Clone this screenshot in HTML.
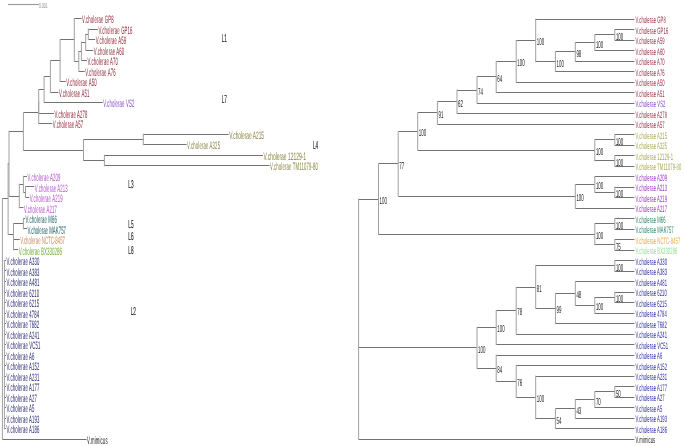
<!DOCTYPE html><html><head><meta charset="utf-8"><style>html,body{margin:0;padding:0;background:#fff;}svg{display:block;will-change:transform;}text{font-family:"Liberation Sans",sans-serif;text-rendering:geometricPrecision;}</style></head><body>
<svg width="685" height="446" viewBox="0 0 685 446">
<rect width="685" height="446" fill="#fff"/>
<path d="M88.30 29.50H97.90M88.30 39.50H95.20M85.70 34.50H88.30M85.70 50.50H93.30M81.40 42.50H85.70M81.40 60.50H87.00M78.80 51.50H81.40M78.80 71.50H84.70M74.30 18.50H81.60M74.30 61.50H78.80M60.10 39.50H74.30M60.10 81.50H65.70M50.40 60.50H60.10M50.40 92.50H58.40M44.10 76.50H50.40M44.10 102.50H102.70M38.70 89.50H44.10M38.70 113.50H54.00M38.70 123.50H52.30M143.30 134.50H228.70M143.30 144.50H186.60M104.40 155.50H263.00M104.40 165.50H269.60M83.50 139.50H143.30M83.50 160.50H104.40M23.40 112.50H38.70M23.40 150.50H83.50M25.50 186.50H34.30M25.50 197.50H29.20M23.40 176.50H27.00M23.40 192.50H25.50M19.30 184.50H23.40M19.30 207.50H23.40M23.40 218.50H25.10M23.40 228.50H27.00M13.50 239.50H19.70M13.50 249.50H18.20M13.50 223.50H23.40M9.00 131.50H23.40M9.00 196.50H19.30M8.10 163.50H9.00M8.10 234.50H13.50M2.40 198.50H8.10M2.40 439.50H86.60M4.40 260.50H6.00M4.40 270.50H6.00M4.40 281.50H6.00M4.40 292.50H6.00M4.40 302.50H6.00M4.40 313.50H6.00M4.40 323.50H6.00M4.40 334.50H6.00M4.40 344.50H6.00M4.40 355.50H6.00M4.40 365.50H6.00M4.40 376.50H6.00M4.40 386.50H6.00M4.40 397.50H6.00M4.40 407.50H6.00M4.40 418.50H6.00M4.40 428.50H6.00M614.80 29.50H634.40M614.80 40.50H634.40M594.80 34.50H614.80M594.80 50.50H634.40M575.30 42.50H594.80M575.30 61.50H634.40M555.40 51.50H575.30M555.40 71.50H634.40M535.70 19.50H634.40M535.70 61.50H555.40M516.20 40.50H535.70M516.20 82.50H634.40M496.20 61.50H516.20M496.20 92.50H634.40M477.00 76.50H496.20M477.00 103.50H634.40M457.00 90.50H477.00M457.00 113.50H634.40M437.40 101.50H457.00M437.40 124.50H634.40M614.80 134.50H634.40M614.80 145.50H634.40M614.80 155.50H634.40M614.80 166.50H634.40M594.80 139.50H614.80M594.80 160.50H614.80M417.70 112.50H437.40M417.70 150.50H594.80M614.80 187.50H634.40M614.80 197.50H634.40M594.80 176.50H634.40M594.80 192.50H614.80M575.30 184.50H594.80M575.30 208.50H634.40M398.20 131.50H417.70M398.20 196.50H575.30M614.80 218.50H634.40M614.80 229.50H634.40M614.80 239.50H634.40M614.80 250.50H634.40M594.80 223.50H614.80M594.80 244.50H614.80M378.50 163.50H398.20M378.50 234.50H594.80M614.80 260.50H634.40M614.80 271.50H634.40M614.80 292.50H634.40M614.80 302.50H634.40M594.80 297.50H614.80M594.80 313.50H634.40M575.30 281.50H634.40M575.30 305.50H594.80M555.40 293.50H575.30M555.40 323.50H634.40M535.70 265.50H614.80M535.70 308.50H555.40M516.20 287.50H535.70M516.20 334.50H634.40M496.20 310.50H516.20M496.20 344.50H634.40M614.80 386.50H634.40M614.80 397.50H634.40M594.80 391.50H614.80M594.80 407.50H634.40M575.30 399.50H594.80M575.30 418.50H634.40M555.40 408.50H575.30M555.40 428.50H634.40M535.70 376.50H634.40M535.70 418.50H555.40M516.20 365.50H634.40M516.20 397.50H535.70M496.20 355.50H634.40M496.20 381.50H516.20M477.00 327.50H496.20M477.00 368.50H496.20M358.60 199.50H378.50M358.60 347.50H477.00M358.60 439.50H634.40" stroke="#727272" stroke-width="1.20" fill="none"/>
<path d="M88.30 28.52V40.04M85.70 33.78V50.56M81.40 41.67V61.08M78.80 50.88V71.60M74.30 18.00V61.74M60.10 39.37V82.12M50.40 60.24V92.64M44.10 75.94V103.16M38.70 89.05V113.68M38.70 100.87V124.20M143.30 133.72V145.24M104.40 154.76V166.28M83.50 138.98V161.02M23.40 112.03V150.50M25.50 186.32V197.84M23.40 175.80V192.58M19.30 183.69V208.36M23.40 217.88V229.40M13.50 238.92V250.44M13.50 223.14V245.18M9.00 130.77V196.52M8.10 163.15V234.66M2.40 198.40V439.80M4.40 259.96V429.28M614.80 29.10V40.60M594.80 34.35V51.10M575.30 42.23V61.60M555.40 51.41V72.10M535.70 18.60V62.26M516.20 39.93V82.60M496.20 60.76V93.10M477.00 76.43V103.60M457.00 89.52V114.10M437.40 101.31V124.60M614.80 134.10V145.60M614.80 155.10V166.60M594.80 139.35V161.35M417.70 112.45V150.85M614.80 186.60V198.10M594.80 176.10V192.85M575.30 183.97V208.60M398.20 131.15V196.79M614.80 218.10V229.60M614.80 239.10V250.60M594.80 223.35V245.35M378.50 163.47V234.85M614.80 260.10V271.60M614.80 291.60V303.10M594.80 296.85V313.60M575.30 281.10V305.73M555.40 292.91V324.10M535.70 265.35V309.01M516.20 286.68V334.60M496.20 310.14V345.10M614.80 386.10V397.60M594.80 391.35V408.10M575.30 399.23V418.60M555.40 408.41V429.10M535.70 375.60V419.26M516.20 365.10V397.93M496.20 354.60V382.01M477.00 327.12V368.81M358.60 198.66V439.60" stroke="#a0a0a0" stroke-width="1" fill="none"/>
<path d="M8 4.5H39" stroke="#9a9a9a" stroke-width="1.1"/>
<g transform="translate(39.0,7.7) scale(0.50,1)"><text font-size="7" fill="#909090">0.001</text></g>
<g transform="translate(82.10,23.20) scale(0.395,1)"><text font-size="10.80" fill="#8e2636" fill-opacity="1.00" letter-spacing="0.36">V.cholerae GP8</text></g>
<g transform="translate(98.40,33.72) scale(0.395,1)"><text font-size="10.80" fill="#8e2636" fill-opacity="1.00" letter-spacing="0.36">V.cholerae GP16</text></g>
<g transform="translate(95.70,44.24) scale(0.395,1)"><text font-size="10.80" fill="#8e2636" fill-opacity="1.00" letter-spacing="0.36">V.cholerae A59</text></g>
<g transform="translate(93.80,54.76) scale(0.395,1)"><text font-size="10.80" fill="#8e2636" fill-opacity="1.00" letter-spacing="0.36">V.cholerae A60</text></g>
<g transform="translate(87.50,65.28) scale(0.395,1)"><text font-size="10.80" fill="#8e2636" fill-opacity="1.00" letter-spacing="0.36">V.cholerae A70</text></g>
<g transform="translate(85.20,75.80) scale(0.395,1)"><text font-size="10.80" fill="#8e2636" fill-opacity="1.00" letter-spacing="0.36">V.cholerae A76</text></g>
<g transform="translate(66.20,86.32) scale(0.395,1)"><text font-size="10.80" fill="#8e2636" fill-opacity="1.00" letter-spacing="0.36">V.cholerae A50</text></g>
<g transform="translate(58.90,96.84) scale(0.395,1)"><text font-size="10.80" fill="#8e2636" fill-opacity="1.00" letter-spacing="0.36">V.cholerae A51</text></g>
<g transform="translate(103.20,107.36) scale(0.395,1)"><text font-size="10.80" fill="#8848c8" fill-opacity="1.00" letter-spacing="0.36">V.cholerae VS2</text></g>
<g transform="translate(54.50,117.88) scale(0.395,1)"><text font-size="10.80" fill="#8e2636" fill-opacity="1.00" letter-spacing="0.36">V.cholerae A278</text></g>
<g transform="translate(52.80,128.40) scale(0.395,1)"><text font-size="10.80" fill="#8e2636" fill-opacity="1.00" letter-spacing="0.36">V.cholerae A57</text></g>
<g transform="translate(229.20,138.92) scale(0.395,1)"><text font-size="10.80" fill="#858540" fill-opacity="1.00" textLength="88.1" lengthAdjust="spacingAndGlyphs">V.cholerae A215</text></g>
<g transform="translate(187.10,149.44) scale(0.395,1)"><text font-size="10.80" fill="#858540" fill-opacity="1.00" letter-spacing="0.36">V.cholerae A325</text></g>
<g transform="translate(263.50,159.96) scale(0.395,1)"><text font-size="10.80" fill="#858540" fill-opacity="1.00" textLength="107.6" lengthAdjust="spacingAndGlyphs">V.cholerae 12129-1</text></g>
<g transform="translate(270.10,170.48) scale(0.395,1)"><text font-size="10.80" fill="#858540" fill-opacity="1.00" letter-spacing="0.36">V.cholerae TM11079-80</text></g>
<g transform="translate(27.50,181.00) scale(0.395,1)"><text font-size="10.80" fill="#b450c8" fill-opacity="1.00" letter-spacing="0.36">V.cholerae A209</text></g>
<g transform="translate(34.80,191.52) scale(0.395,1)"><text font-size="10.80" fill="#b450c8" fill-opacity="1.00" letter-spacing="0.36">V.cholerae A213</text></g>
<g transform="translate(29.70,202.04) scale(0.395,1)"><text font-size="10.80" fill="#b450c8" fill-opacity="1.00" letter-spacing="0.36">V.cholerae A219</text></g>
<g transform="translate(23.90,212.56) scale(0.395,1)"><text font-size="10.80" fill="#b450c8" fill-opacity="1.00" letter-spacing="0.36">V.cholerae A217</text></g>
<g transform="translate(25.60,223.08) scale(0.395,1)"><text font-size="10.80" fill="#1e6064" fill-opacity="1.00" letter-spacing="0.36">V.cholerae M66</text></g>
<g transform="translate(27.50,233.60) scale(0.395,1)"><text font-size="10.80" fill="#1e6064" fill-opacity="1.00" textLength="97.5" lengthAdjust="spacingAndGlyphs">V.cholerae MAK757</text></g>
<g transform="translate(20.20,244.12) scale(0.395,1)"><text font-size="10.80" fill="#c89060" fill-opacity="1.00" textLength="113.4" lengthAdjust="spacingAndGlyphs">V.cholerae NCTC-8457</text></g>
<g transform="translate(18.70,254.64) scale(0.395,1)"><text font-size="10.80" fill="#70b030" fill-opacity="1.00" textLength="109.6" lengthAdjust="spacingAndGlyphs">V.cholerae BX330286</text></g>
<g transform="translate(6.50,265.16) scale(0.395,1)"><text font-size="10.80" fill="#262670" fill-opacity="1.00" letter-spacing="0.36">V.cholerae A330</text></g>
<g transform="translate(6.50,275.68) scale(0.395,1)"><text font-size="10.80" fill="#262670" fill-opacity="1.00" letter-spacing="0.36">V.cholerae A383</text></g>
<g transform="translate(6.50,286.20) scale(0.395,1)"><text font-size="10.80" fill="#262670" fill-opacity="1.00" letter-spacing="0.36">V.cholerae A481</text></g>
<g transform="translate(6.50,296.72) scale(0.395,1)"><text font-size="10.80" fill="#262670" fill-opacity="1.00" letter-spacing="0.36">V.cholerae 6210</text></g>
<g transform="translate(6.50,307.24) scale(0.395,1)"><text font-size="10.80" fill="#262670" fill-opacity="1.00" letter-spacing="0.36">V.cholerae 6215</text></g>
<g transform="translate(6.50,317.76) scale(0.395,1)"><text font-size="10.80" fill="#262670" fill-opacity="1.00" letter-spacing="0.36">V.cholerae 4784</text></g>
<g transform="translate(6.50,328.28) scale(0.395,1)"><text font-size="10.80" fill="#262670" fill-opacity="1.00" letter-spacing="0.36">V.cholerae 7682</text></g>
<g transform="translate(6.50,338.80) scale(0.395,1)"><text font-size="10.80" fill="#262670" fill-opacity="1.00" letter-spacing="0.36">V.cholerae A241</text></g>
<g transform="translate(6.50,349.32) scale(0.395,1)"><text font-size="10.80" fill="#262670" fill-opacity="1.00" letter-spacing="0.36">V.cholerae VC51</text></g>
<g transform="translate(6.50,359.84) scale(0.395,1)"><text font-size="10.80" fill="#262670" fill-opacity="1.00" letter-spacing="0.36">V.cholerae A6</text></g>
<g transform="translate(6.50,370.36) scale(0.395,1)"><text font-size="10.80" fill="#262670" fill-opacity="1.00" letter-spacing="0.36">V.cholerae A152</text></g>
<g transform="translate(6.50,380.88) scale(0.395,1)"><text font-size="10.80" fill="#262670" fill-opacity="1.00" letter-spacing="0.36">V.cholerae A231</text></g>
<g transform="translate(6.50,391.40) scale(0.395,1)"><text font-size="10.80" fill="#262670" fill-opacity="1.00" letter-spacing="0.36">V.cholerae A177</text></g>
<g transform="translate(6.50,401.92) scale(0.395,1)"><text font-size="10.80" fill="#262670" fill-opacity="1.00" letter-spacing="0.36">V.cholerae A27</text></g>
<g transform="translate(6.50,412.44) scale(0.395,1)"><text font-size="10.80" fill="#262670" fill-opacity="1.00" letter-spacing="0.36">V.cholerae A5</text></g>
<g transform="translate(6.50,422.96) scale(0.395,1)"><text font-size="10.80" fill="#262670" fill-opacity="1.00" letter-spacing="0.36">V.cholerae A193</text></g>
<g transform="translate(6.50,433.48) scale(0.395,1)"><text font-size="10.80" fill="#262670" fill-opacity="1.00" letter-spacing="0.36">V.cholerae A186</text></g>
<g transform="translate(87.10,444.00) scale(0.395,1)"><text font-size="10.80" fill="#222222" fill-opacity="1.00" letter-spacing="0.36">V.mimicus</text></g>
<g transform="translate(635.60,23.30) scale(0.440,1)"><text font-size="9.40" fill="#962a40" fill-opacity="1.00" letter-spacing="0.25">V.cholerae GP8</text></g>
<g transform="translate(635.60,33.80) scale(0.440,1)"><text font-size="9.40" fill="#962a40" fill-opacity="1.00" letter-spacing="0.25">V.cholerae GP16</text></g>
<g transform="translate(635.60,44.30) scale(0.440,1)"><text font-size="9.40" fill="#962a40" fill-opacity="1.00" letter-spacing="0.25">V.cholerae A59</text></g>
<g transform="translate(635.60,54.80) scale(0.440,1)"><text font-size="9.40" fill="#962a40" fill-opacity="1.00" letter-spacing="0.25">V.cholerae A60</text></g>
<g transform="translate(635.60,65.30) scale(0.440,1)"><text font-size="9.40" fill="#962a40" fill-opacity="1.00" letter-spacing="0.25">V.cholerae A70</text></g>
<g transform="translate(635.60,75.80) scale(0.440,1)"><text font-size="9.40" fill="#962a40" fill-opacity="1.00" letter-spacing="0.25">V.cholerae A76</text></g>
<g transform="translate(635.60,86.30) scale(0.440,1)"><text font-size="9.40" fill="#962a40" fill-opacity="1.00" letter-spacing="0.25">V.cholerae A50</text></g>
<g transform="translate(635.60,96.80) scale(0.440,1)"><text font-size="9.40" fill="#962a40" fill-opacity="1.00" letter-spacing="0.25">V.cholerae A51</text></g>
<g transform="translate(635.60,107.30) scale(0.440,1)"><text font-size="9.40" fill="#8040d8" fill-opacity="1.00" letter-spacing="0.25">V.cholerae VS2</text></g>
<g transform="translate(635.60,117.80) scale(0.440,1)"><text font-size="9.40" fill="#962a40" fill-opacity="1.00" letter-spacing="0.25">V.cholerae A278</text></g>
<g transform="translate(635.60,128.30) scale(0.440,1)"><text font-size="9.40" fill="#962a40" fill-opacity="1.00" letter-spacing="0.25">V.cholerae A57</text></g>
<g transform="translate(635.60,138.80) scale(0.440,1)"><text font-size="9.40" fill="#a8a850" fill-opacity="1.00" letter-spacing="0.25">V.cholerae A215</text></g>
<g transform="translate(635.60,149.30) scale(0.440,1)"><text font-size="9.40" fill="#a8a850" fill-opacity="1.00" letter-spacing="0.25">V.cholerae A325</text></g>
<g transform="translate(635.60,159.80) scale(0.440,1)"><text font-size="9.40" fill="#a8a850" fill-opacity="1.00" letter-spacing="0.25">V.cholerae 12129-1</text></g>
<g transform="translate(635.60,170.30) scale(0.440,1)"><text font-size="9.40" fill="#a8a850" fill-opacity="1.00" letter-spacing="0.25">V.cholerae TM11079-80</text></g>
<g transform="translate(635.60,180.80) scale(0.440,1)"><text font-size="9.40" fill="#9a30c0" fill-opacity="1.00" letter-spacing="0.25">V.cholerae A209</text></g>
<g transform="translate(635.60,191.30) scale(0.440,1)"><text font-size="9.40" fill="#9a30c0" fill-opacity="1.00" letter-spacing="0.25">V.cholerae A213</text></g>
<g transform="translate(635.60,201.80) scale(0.440,1)"><text font-size="9.40" fill="#9a30c0" fill-opacity="1.00" letter-spacing="0.25">V.cholerae A219</text></g>
<g transform="translate(635.60,212.30) scale(0.440,1)"><text font-size="9.40" fill="#9a30c0" fill-opacity="1.00" letter-spacing="0.25">V.cholerae A217</text></g>
<g transform="translate(635.60,222.80) scale(0.440,1)"><text font-size="9.40" fill="#2a8060" fill-opacity="1.00" letter-spacing="0.25">V.cholerae M66</text></g>
<g transform="translate(635.60,233.30) scale(0.440,1)"><text font-size="9.40" fill="#2a8060" fill-opacity="1.00" letter-spacing="0.25">V.cholerae MAK757</text></g>
<g transform="translate(635.60,243.80) scale(0.440,1)"><text font-size="9.40" fill="#f0a830" fill-opacity="1.00" letter-spacing="0.25">V.cholerae NCTC-8457</text></g>
<g transform="translate(635.60,254.30) scale(0.440,1)"><text font-size="9.40" fill="#90e090" fill-opacity="1.00" letter-spacing="0.25">V.cholerae BX330286</text></g>
<g transform="translate(635.60,264.80) scale(0.440,1)"><text font-size="9.40" fill="#2828a0" fill-opacity="1.00" letter-spacing="0.25">V.cholerae A330</text></g>
<g transform="translate(635.60,275.30) scale(0.440,1)"><text font-size="9.40" fill="#2828a0" fill-opacity="1.00" letter-spacing="0.25">V.cholerae A383</text></g>
<g transform="translate(635.60,285.80) scale(0.440,1)"><text font-size="9.40" fill="#2828a0" fill-opacity="1.00" letter-spacing="0.25">V.cholerae A481</text></g>
<g transform="translate(635.60,296.30) scale(0.440,1)"><text font-size="9.40" fill="#2828a0" fill-opacity="1.00" letter-spacing="0.25">V.cholerae 6210</text></g>
<g transform="translate(635.60,306.80) scale(0.440,1)"><text font-size="9.40" fill="#2828a0" fill-opacity="1.00" letter-spacing="0.25">V.cholerae 6215</text></g>
<g transform="translate(635.60,317.30) scale(0.440,1)"><text font-size="9.40" fill="#2828a0" fill-opacity="1.00" letter-spacing="0.25">V.cholerae 4784</text></g>
<g transform="translate(635.60,327.80) scale(0.440,1)"><text font-size="9.40" fill="#2828a0" fill-opacity="1.00" letter-spacing="0.25">V.cholerae 7682</text></g>
<g transform="translate(635.60,338.30) scale(0.440,1)"><text font-size="9.40" fill="#2828a0" fill-opacity="1.00" letter-spacing="0.25">V.cholerae A241</text></g>
<g transform="translate(635.60,348.80) scale(0.440,1)"><text font-size="9.40" fill="#2828a0" fill-opacity="1.00" letter-spacing="0.25">V.cholerae VC51</text></g>
<g transform="translate(635.60,359.30) scale(0.440,1)"><text font-size="9.40" fill="#2828a0" fill-opacity="1.00" letter-spacing="0.25">V.cholerae A6</text></g>
<g transform="translate(635.60,369.80) scale(0.440,1)"><text font-size="9.40" fill="#2828a0" fill-opacity="1.00" letter-spacing="0.25">V.cholerae A152</text></g>
<g transform="translate(635.60,380.30) scale(0.440,1)"><text font-size="9.40" fill="#2828a0" fill-opacity="1.00" letter-spacing="0.25">V.cholerae A231</text></g>
<g transform="translate(635.60,390.80) scale(0.440,1)"><text font-size="9.40" fill="#2828a0" fill-opacity="1.00" letter-spacing="0.25">V.cholerae A177</text></g>
<g transform="translate(635.60,401.30) scale(0.440,1)"><text font-size="9.40" fill="#2828a0" fill-opacity="1.00" letter-spacing="0.25">V.cholerae A27</text></g>
<g transform="translate(635.60,411.80) scale(0.440,1)"><text font-size="9.40" fill="#2828a0" fill-opacity="1.00" letter-spacing="0.25">V.cholerae A5</text></g>
<g transform="translate(635.60,422.30) scale(0.440,1)"><text font-size="9.40" fill="#2828a0" fill-opacity="1.00" letter-spacing="0.25">V.cholerae A193</text></g>
<g transform="translate(635.60,432.80) scale(0.440,1)"><text font-size="9.40" fill="#2828a0" fill-opacity="1.00" letter-spacing="0.25">V.cholerae A186</text></g>
<g transform="translate(635.60,443.30) scale(0.440,1)"><text font-size="9.40" fill="#222222" fill-opacity="1.00" letter-spacing="0.25">V.mimicus</text></g>
<g transform="translate(615.90,39.65) scale(0.445,1)"><text font-size="9.90" fill="#1a1a1a" font-family="Liberation Serif">100</text></g>
<g transform="translate(595.90,47.52) scale(0.445,1)"><text font-size="9.90" fill="#1a1a1a" font-family="Liberation Serif">100</text></g>
<g transform="translate(576.40,56.71) scale(0.445,1)"><text font-size="9.90" fill="#1a1a1a" font-family="Liberation Serif">98</text></g>
<g transform="translate(556.50,66.56) scale(0.445,1)"><text font-size="9.90" fill="#1a1a1a" font-family="Liberation Serif">100</text></g>
<g transform="translate(536.80,45.23) scale(0.445,1)"><text font-size="9.90" fill="#1a1a1a" font-family="Liberation Serif">100</text></g>
<g transform="translate(517.30,66.06) scale(0.445,1)"><text font-size="9.90" fill="#1a1a1a" font-family="Liberation Serif">100</text></g>
<g transform="translate(497.30,81.73) scale(0.445,1)"><text font-size="9.90" fill="#1a1a1a" font-family="Liberation Serif">64</text></g>
<g transform="translate(478.10,94.82) scale(0.445,1)"><text font-size="9.90" fill="#1a1a1a" font-family="Liberation Serif">74</text></g>
<g transform="translate(458.10,106.61) scale(0.445,1)"><text font-size="9.90" fill="#1a1a1a" font-family="Liberation Serif">62</text></g>
<g transform="translate(438.50,117.75) scale(0.445,1)"><text font-size="9.90" fill="#1a1a1a" font-family="Liberation Serif">91</text></g>
<g transform="translate(615.90,144.65) scale(0.445,1)"><text font-size="9.90" fill="#1a1a1a" font-family="Liberation Serif">100</text></g>
<g transform="translate(615.90,165.65) scale(0.445,1)"><text font-size="9.90" fill="#1a1a1a" font-family="Liberation Serif">100</text></g>
<g transform="translate(595.90,155.15) scale(0.445,1)"><text font-size="9.90" fill="#1a1a1a" font-family="Liberation Serif">100</text></g>
<g transform="translate(418.80,136.45) scale(0.445,1)"><text font-size="9.90" fill="#1a1a1a" font-family="Liberation Serif">100</text></g>
<g transform="translate(615.90,197.15) scale(0.445,1)"><text font-size="9.90" fill="#1a1a1a" font-family="Liberation Serif">100</text></g>
<g transform="translate(595.90,189.28) scale(0.445,1)"><text font-size="9.90" fill="#1a1a1a" font-family="Liberation Serif">100</text></g>
<g transform="translate(576.40,201.09) scale(0.445,1)"><text font-size="9.90" fill="#1a1a1a" font-family="Liberation Serif">100</text></g>
<g transform="translate(399.30,168.77) scale(0.445,1)"><text font-size="9.90" fill="#1a1a1a" font-family="Liberation Serif">77</text></g>
<g transform="translate(615.90,228.65) scale(0.445,1)"><text font-size="9.90" fill="#1a1a1a" font-family="Liberation Serif">100</text></g>
<g transform="translate(615.90,249.65) scale(0.445,1)"><text font-size="9.90" fill="#1a1a1a" font-family="Liberation Serif">75</text></g>
<g transform="translate(595.90,239.15) scale(0.445,1)"><text font-size="9.90" fill="#1a1a1a" font-family="Liberation Serif">100</text></g>
<g transform="translate(379.60,203.96) scale(0.445,1)"><text font-size="9.90" fill="#1a1a1a" font-family="Liberation Serif">100</text></g>
<g transform="translate(615.90,270.65) scale(0.445,1)"><text font-size="9.90" fill="#1a1a1a" font-family="Liberation Serif">100</text></g>
<g transform="translate(615.90,302.15) scale(0.445,1)"><text font-size="9.90" fill="#1a1a1a" font-family="Liberation Serif">100</text></g>
<g transform="translate(595.90,310.03) scale(0.445,1)"><text font-size="9.90" fill="#1a1a1a" font-family="Liberation Serif">100</text></g>
<g transform="translate(576.40,298.21) scale(0.445,1)"><text font-size="9.90" fill="#1a1a1a" font-family="Liberation Serif">48</text></g>
<g transform="translate(556.50,313.31) scale(0.445,1)"><text font-size="9.90" fill="#1a1a1a" font-family="Liberation Serif">99</text></g>
<g transform="translate(536.80,291.98) scale(0.445,1)"><text font-size="9.90" fill="#1a1a1a" font-family="Liberation Serif">81</text></g>
<g transform="translate(517.30,315.44) scale(0.445,1)"><text font-size="9.90" fill="#1a1a1a" font-family="Liberation Serif">78</text></g>
<g transform="translate(497.30,332.42) scale(0.445,1)"><text font-size="9.90" fill="#1a1a1a" font-family="Liberation Serif">100</text></g>
<g transform="translate(615.90,396.65) scale(0.445,1)"><text font-size="9.90" fill="#1a1a1a" font-family="Liberation Serif">50</text></g>
<g transform="translate(595.90,404.53) scale(0.445,1)"><text font-size="9.90" fill="#1a1a1a" font-family="Liberation Serif">70</text></g>
<g transform="translate(576.40,413.71) scale(0.445,1)"><text font-size="9.90" fill="#1a1a1a" font-family="Liberation Serif">43</text></g>
<g transform="translate(556.50,423.56) scale(0.445,1)"><text font-size="9.90" fill="#1a1a1a" font-family="Liberation Serif">54</text></g>
<g transform="translate(536.80,402.23) scale(0.445,1)"><text font-size="9.90" fill="#1a1a1a" font-family="Liberation Serif">100</text></g>
<g transform="translate(517.30,386.31) scale(0.445,1)"><text font-size="9.90" fill="#1a1a1a" font-family="Liberation Serif">76</text></g>
<g transform="translate(497.30,373.11) scale(0.445,1)"><text font-size="9.90" fill="#1a1a1a" font-family="Liberation Serif">84</text></g>
<g transform="translate(478.10,352.76) scale(0.445,1)"><text font-size="9.90" fill="#1a1a1a" font-family="Liberation Serif">100</text></g>
<g transform="translate(221.70,42.00) scale(0.410,1)"><text font-size="11.40" fill="#1a1a1a" stroke="#1a1a1a" stroke-width="0.15">L1</text></g>
<g transform="translate(221.70,103.40) scale(0.410,1)"><text font-size="11.40" fill="#1a1a1a" stroke="#1a1a1a" stroke-width="0.15">L7</text></g>
<g transform="translate(313.00,148.60) scale(0.410,1)"><text font-size="11.40" fill="#1a1a1a" stroke="#1a1a1a" stroke-width="0.15">L4</text></g>
<g transform="translate(128.30,187.80) scale(0.410,1)"><text font-size="11.40" fill="#1a1a1a" stroke="#1a1a1a" stroke-width="0.15">L3</text></g>
<g transform="translate(128.30,227.80) scale(0.410,1)"><text font-size="11.40" fill="#1a1a1a" stroke="#1a1a1a" stroke-width="0.15">L5</text></g>
<g transform="translate(128.30,240.20) scale(0.410,1)"><text font-size="11.40" fill="#1a1a1a" stroke="#1a1a1a" stroke-width="0.15">L6</text></g>
<g transform="translate(128.30,253.60) scale(0.410,1)"><text font-size="11.40" fill="#1a1a1a" stroke="#1a1a1a" stroke-width="0.15">L8</text></g>
<g transform="translate(130.70,314.80) scale(0.410,1)"><text font-size="11.40" fill="#1a1a1a" stroke="#1a1a1a" stroke-width="0.15">L2</text></g>
</svg></body></html>
